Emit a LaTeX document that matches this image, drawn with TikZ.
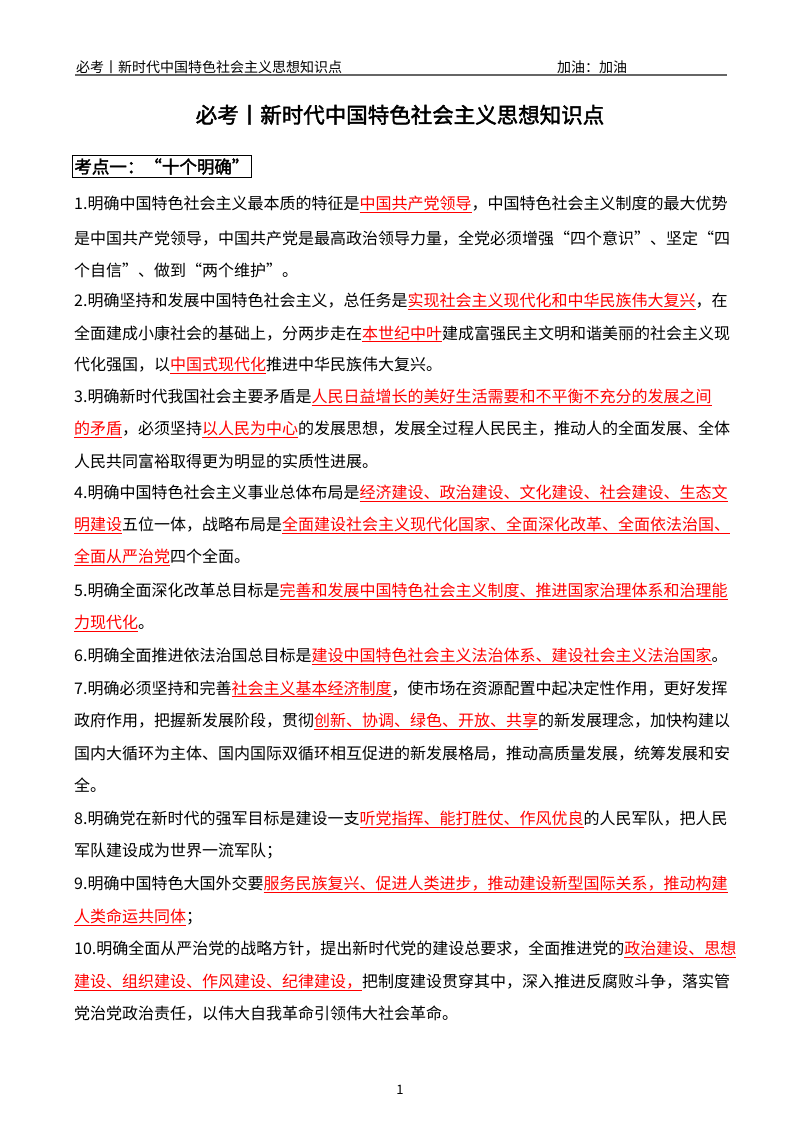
\documentclass[tikz,border=0pt]{standalone}
\usepackage{fontspec}
\setmainfont{Noto Sans CJK SC}
\newfontfamily\cjkb{Noto Sans CJK SC}[FakeBold=2]
\newcommand\hl[1]{{\color{red}\underline{#1}}}
\begin{document}
\begin{tikzpicture}[x=1pt,y=-1pt,
  ln/.style={anchor=base west,inner sep=0pt,font=\fontsize{16}{18}\selectfont},
  hd/.style={anchor=base west,inner sep=0pt,font=\fontsize{14}{16}\selectfont}]
\useasboundingbox (0,0) rectangle (800,1132);
\node[hd] (h1) at (76,73) {必考丨新时代中国特色社会主义思想知识点};
\node[hd] (h2) at (557,73) {加油：加油};
\draw[line width=2pt,gray!80!black] (75,75) -- (727,75);
\node[anchor=base,inner sep=0pt,font=\fontsize{21.5}{24}\cjkb] (t) at (400,123) {必考丨新时代中国特色社会主义思想知识点};
\node[draw,line width=0.8pt,anchor=north west,inner xsep=2pt,inner ysep=3pt,font=\fontsize{17.5}{20}\cjkb] (k) at (72,155) {考点一：“十个明确”};
\foreach \y/\t in {
 209/{1.明确中国特色社会主义最本质的特征是\hl{中国共产党领导}，中国特色社会主义制度的最大优势},
 244/{是中国共产党领导，中国共产党是最高政治领导力量，全党必须增强“四个意识”、坚定“四},
 276/{个自信”、做到“两个维护”。},
 306/{2.明确坚持和发展中国特色社会主义，总任务是\hl{实现社会主义现代化和中华民族伟大复兴}，在},
 339/{全面建成小康社会的基础上，分两步走在\hl{本世纪中叶}建成富强民主文明和谐美丽的社会主义现},
 370/{代化强国，以\hl{中国式现代化}推进中华民族伟大复兴。},
 402/{3.明确新时代我国社会主要矛盾是\hl{人民日益增长的美好生活需要和不平衡不充分的发展之间}},
 434/{\hl{的矛盾}，必须坚持\hl{以人民为中心}的发展思想，发展全过程人民民主，推动人的全面发展、全体},
 467/{人民共同富裕取得更为明显的实质性进展。},
 498/{4.明确中国特色社会主义事业总体布局是\hl{经济建设、政治建设、文化建设、社会建设、生态文}},
 530/{\hl{明建设}五位一体，战略布局是\hl{全面建设社会主义现代化国家、全面深化改革、全面依法治国、}},
 562/{\hl{全面从严治党}四个全面。},
 596/{5.明确全面深化改革总目标是\hl{完善和发展中国特色社会主义制度、推进国家治理体系和治理能}},
 628/{\hl{力现代化}。},
 661/{6.明确全面推进依法治国总目标是\hl{建设中国特色社会主义法治体系、建设社会主义法治国家}。},
 694/{7.明确必须坚持和完善\hl{社会主义基本经济制度}，使市场在资源配置中起决定性作用，更好发挥},
 726/{政府作用，把握新发展阶段，贯彻\hl{创新、协调、绿色、开放、共享}的新发展理念，加快构建以},
 759/{国内大循环为主体、国内国际双循环相互促进的新发展格局，推动高质量发展，统筹发展和安},
 791/{全。},
 824/{8.明确党在新时代的强军目标是建设一支\hl{听党指挥、能打胜仗、作风优良}的人民军队，把人民},
 856/{军队建设成为世界一流军队；},
 889/{9.明确中国特色大国外交要\hl{服务民族复兴、促进人类进步，推动建设新型国际关系，推动构建}},
 922/{\hl{人类命运共同体}；},
 954/{10.明确全面从严治党的战略方针，提出新时代党的建设总要求，全面推进党的\hl{政治建设、思想}},
 987/{\hl{建设、组织建设、作风建设、纪律建设，}把制度建设贯穿其中，深入推进反腐败斗争，落实管},
 1019/{党治党政治责任，以伟大自我革命引领伟大社会革命。}}
 {\node[ln] at (74,\y) {\t};}
\node[anchor=base,inner sep=0pt,font=\fontsize{13}{15}\selectfont] (p) at (400,1094) {1};
\end{tikzpicture}
\end{document}
